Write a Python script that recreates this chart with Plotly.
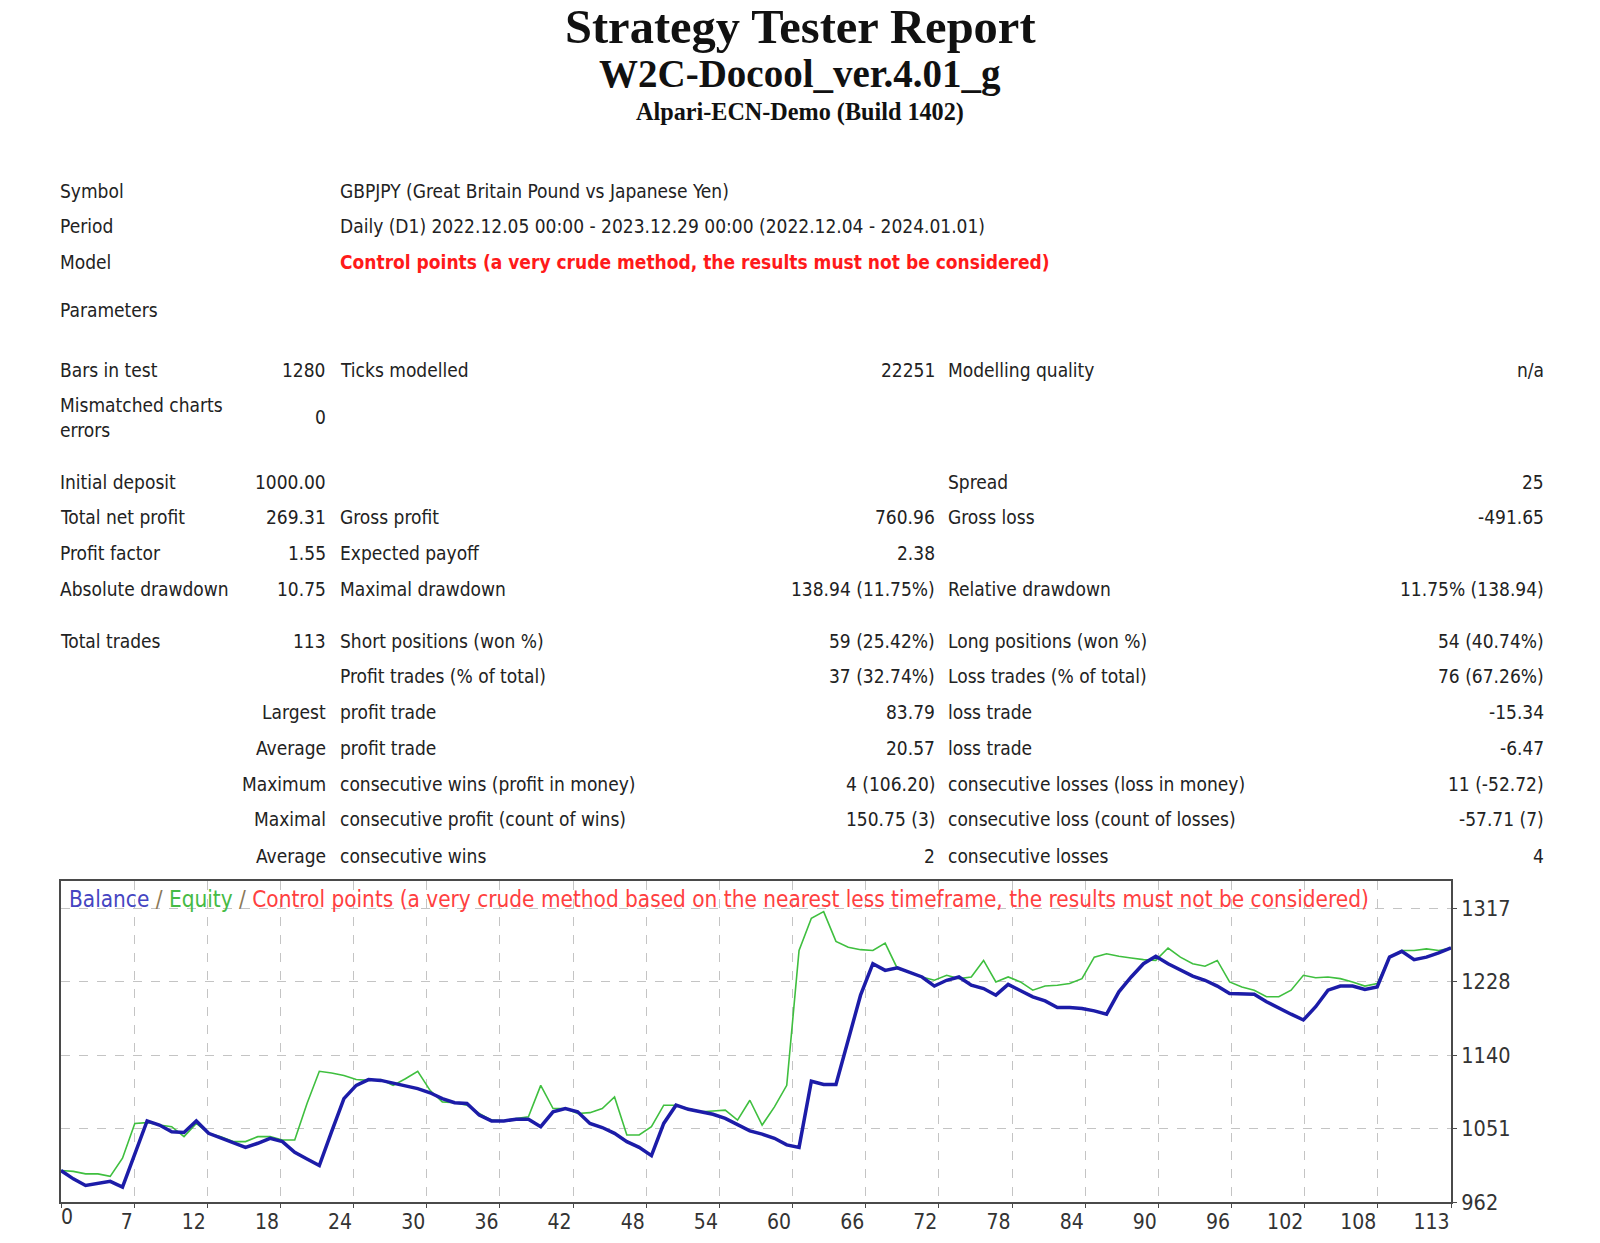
import plotly.graph_objects as go

# ---------------- data ----------------
title_lines = ["Strategy Tester Report", "W2C-Docool_ver.4.01_g", "Alpari-ECN-Demo (Build 1402)"]

info_labels = ["Symbol", "Period", "Model", "Parameters"]
info_values = [
    "GBPJPY (Great Britain Pound vs Japanese Yen)",
    "Daily (D1) 2022.12.05 00:00 - 2023.12.29 00:00 (2022.12.04 - 2024.01.01)",
    "Control points (a very crude method, the results must not be considered)",
    "",
]

stat_col1 = ["Bars in test", "Mismatched charts<br>errors", "Initial deposit", "Total net profit", "Profit factor",
             "Absolute drawdown", "Total trades", "", "", "", "", "", ""]
stat_col2 = ["1280", "0", "1000.00", "269.31", "1.55", "10.75", "113", "", "Largest", "Average", "Maximum",
             "Maximal", "Average"]
stat_col3 = ["Ticks modelled", "", "", "Gross profit", "Expected payoff", "Maximal drawdown",
             "Short positions (won %)", "Profit trades (% of total)", "profit trade", "profit trade",
             "consecutive wins (profit in money)", "consecutive profit (count of wins)", "consecutive wins"]
stat_col4 = ["22251", "", "", "760.96", "2.38", "138.94 (11.75%)", "59 (25.42%)", "37 (32.74%)", "83.79",
             "20.57", "4 (106.20)", "150.75 (3)", "2"]
stat_col5 = ["Modelling quality", "", "Spread", "Gross loss", "", "Relative drawdown", "Long positions (won %)",
             "Loss trades (% of total)", "loss trade", "loss trade", "consecutive losses (loss in money)",
             "consecutive loss (count of losses)", "consecutive losses"]
stat_col6 = ["n/a", "", "25", "-491.65", "", "11.75% (138.94)", "54 (40.74%)", "76 (67.26%)", "-15.34", "-6.47",
             "11 (-52.72)", "-57.71 (7)", "4"]

trades = list(range(0, 114))
balance = [1000, 990, 982, 984, 987, 980, 1020, 1060, 1055, 1047,
           1046, 1060, 1045, 1039, 1033, 1028, 1033, 1039, 1035, 1022,
           1014, 1006, 1047, 1087, 1103, 1110, 1109, 1106, 1102, 1099,
           1094, 1087, 1082, 1081, 1067, 1060, 1060, 1062, 1062, 1053,
           1071, 1075, 1071, 1057, 1052, 1045, 1035, 1028, 1018, 1057,
           1079, 1074, 1071, 1068, 1063, 1055, 1048, 1044, 1039, 1031,
           1028, 1108, 1104, 1104, 1158, 1212, 1250, 1242, 1245, 1240,
           1234, 1223, 1230, 1234, 1224, 1220, 1212, 1225, 1218, 1210,
           1205, 1197, 1197, 1196, 1193, 1189, 1216, 1234, 1250, 1259,
           1250, 1243, 1235, 1230, 1223, 1214, 1213, 1213, 1204, 1196,
           1189, 1182, 1198, 1218, 1223, 1223, 1219, 1222, 1258, 1265,
           1255, 1258, 1263, 1269.31]
equity = [1000, 999, 996, 996, 993, 1015, 1057, 1058, 1055, 1053,
          1041, 1057, 1045, 1041, 1035, 1035, 1041, 1041, 1037, 1037,
          1081, 1120, 1118, 1115, 1110, 1109, 1110, 1103, 1111, 1120,
          1097, 1083, 1082, 1079, 1069, 1061, 1060, 1063, 1065, 1103,
          1075, 1075, 1069, 1070, 1075, 1089, 1043, 1043, 1053, 1079,
          1079, 1075, 1071, 1072, 1073, 1061, 1085, 1055, 1077, 1103,
          1266, 1305, 1313, 1277, 1270, 1267, 1266, 1275, 1244, 1240,
          1234, 1230, 1236, 1232, 1234, 1254, 1228, 1234, 1228, 1218,
          1223, 1224, 1226, 1232, 1258, 1262, 1259, 1257, 1255, 1254,
          1269, 1258, 1250, 1247, 1254, 1228, 1222, 1218, 1210, 1210,
          1218, 1236, 1233, 1234, 1232, 1228, 1223, 1226, 1258, 1266,
          1266, 1268, 1266, 1269]

x_tick_labels = ["0", "7", "12", "18", "24", "30", "36", "42", "48", "54", "60", "66", "72", "78", "84", "90",
                 "96", "102", "108", "113"]
y_tick_vals = [962, 1050.75, 1139.5, 1228.25, 1317]
y_tick_labels = ["962", "1051", "1140", "1228", "1317"]
y_range = [962, 1350]

legend_parts = [("Balance", "#4545c2"), (" / ", "#8a7858"), ("Equity", "#45bb45"), (" / ", "#8a7858"),
                ("Control points (a very crude method based on the nearest less timeframe, the results must not be considered)", "#ff4040")]

# ---------------- layout helpers ----------------
W, H = 1600, 1243
SANS = "DejaVu Sans Condensed, DejaVu Sans, sans-serif"
SERIF = "Liberation Serif, Times New Roman, serif"
TXT = "#222222"
TS = 19


def px(x):
    return x / W


def py(y):
    return 1 - y / H


annotations = []


def add_text(x, y, text, size=TS, color=TXT, anchor="left", family=SANS, bold=False):
    annotations.append(dict(
        x=px(x), y=py(y), xref="paper", yref="paper", text=("<b>%s</b>" % text) if bold else text,
        showarrow=False, xanchor=anchor, yanchor="middle", align=anchor,
        font=dict(family=family, size=size, color=color)))


# header
header_y = [26, 74, 112]
header_size = [48.5, 39, 24.2]
for t, yy, s in zip(title_lines, header_y, header_size):
    add_text(800, yy, t, size=s, color="#111111", anchor="center", family=SERIF, bold=True)

# column anchors
C1, C2, C3, C4, C5, C6 = 58, 327.5, 338, 936.5, 946, 1546

# info block
info_y = [190.8, 226.5, 262.2, 310.2]
for lab, val, yy in zip(info_labels, info_values, info_y):
    add_text(C1, yy, lab)
    if val:
        if val.startswith("Control points"):
            add_text(C3, yy, val, color="#ff1a1a", bold=True)
        else:
            add_text(C3, yy, val)

# statistics table
stat_y = [370.4, 417, 481.6, 517.3, 553.1, 588.8, 640.8, 675.5, 712.2, 748.0, 783.7, 819.4, 856.1]
for i, yy in enumerate(stat_y):
    if stat_col1[i]:
        add_text(C1, yy, stat_col1[i])
    if stat_col2[i]:
        add_text(C2, yy, stat_col2[i], anchor="right")
    if stat_col3[i]:
        add_text(C3, yy, stat_col3[i])
    if stat_col4[i]:
        add_text(C4, yy, stat_col4[i], anchor="right")
    if stat_col5[i]:
        add_text(C5, yy, stat_col5[i])
    if stat_col6[i]:
        add_text(C6, yy, stat_col6[i], anchor="right")

# chart legend
legend_html = "".join('<span style="color:%s">%s</span>' % (c, t) for t, c in legend_parts)
add_text(67, 899, legend_html, size=22.4)

# ---------------- chart ----------------
x0, x1 = 61, 1451
yt, yb = 881, 1202
n = trades[-1]
x_tick_vals = [k * n / (len(x_tick_labels) - 1) for k in range(len(x_tick_labels))]
main_labels = [""] + x_tick_labels[1:]

fig = go.Figure()
fig.add_trace(go.Scatter(x=trades, y=equity, mode="lines", line=dict(color="#3fbf3f", width=1.6),
                         hoverinfo="skip", showlegend=False))
fig.add_trace(go.Scatter(x=trades, y=balance, mode="lines", line=dict(color="#1c1ca8", width=3.5),
                         hoverinfo="skip", showlegend=False))
fig.add_trace(go.Scatter(x=[trades[0]], y=[balance[0]], xaxis="x2", mode="markers",
                         marker=dict(opacity=0), hoverinfo="skip", showlegend=False))

x_font = dict(family=SANS, size=21, color="#333333")
y_font = dict(family=SANS, size=21.5, color="#333333")
fig.update_layout(
    width=W, height=H, margin=dict(l=0, r=0, t=0, b=0, autoexpand=False), autosize=False,
    paper_bgcolor="white", plot_bgcolor="white",
    annotations=annotations,
    xaxis=dict(domain=[px(x0), px(x1)], range=[0, n], tickvals=x_tick_vals, ticktext=main_labels,
               ticklabelposition="outside left", showgrid=True, griddash="dash", gridcolor="#c4c4c4",
               gridwidth=1, showline=True, mirror=True, linecolor="#4a4a4a", linewidth=2, ticks="outside",
               ticklen=4, tickcolor="#4a4a4a", zeroline=False, tickfont=x_font, anchor="y",
               fixedrange=True, automargin=False),
    xaxis2=dict(overlaying="x", range=[0, n], tickvals=[x_tick_vals[0]], ticktext=[x_tick_labels[0]],
                ticklabelposition="outside right", showgrid=False, showline=False, ticks="", zeroline=False,
                tickfont=x_font, anchor="y", side="bottom", automargin=False),
    yaxis=dict(domain=[py(yb), py(yt)], range=y_range, side="right", tickvals=y_tick_vals,
               ticktext=y_tick_labels, showgrid=True, griddash="dash", gridcolor="#c4c4c4", gridwidth=1,
               showline=True, mirror=True, linecolor="#4a4a4a", linewidth=2, ticks="outside", ticklen=4,
               tickcolor="#4a4a4a", zeroline=False, tickfont=y_font, anchor="x", fixedrange=True,
               automargin=False),
)

post = """
document.documentElement.style.margin='0';
document.body.style.margin='0';
document.documentElement.style.overflow='hidden';
document.body.style.overflow='hidden';
"""
fig.write_html("out.html", config={"displayModeBar": False}, post_script=post)
